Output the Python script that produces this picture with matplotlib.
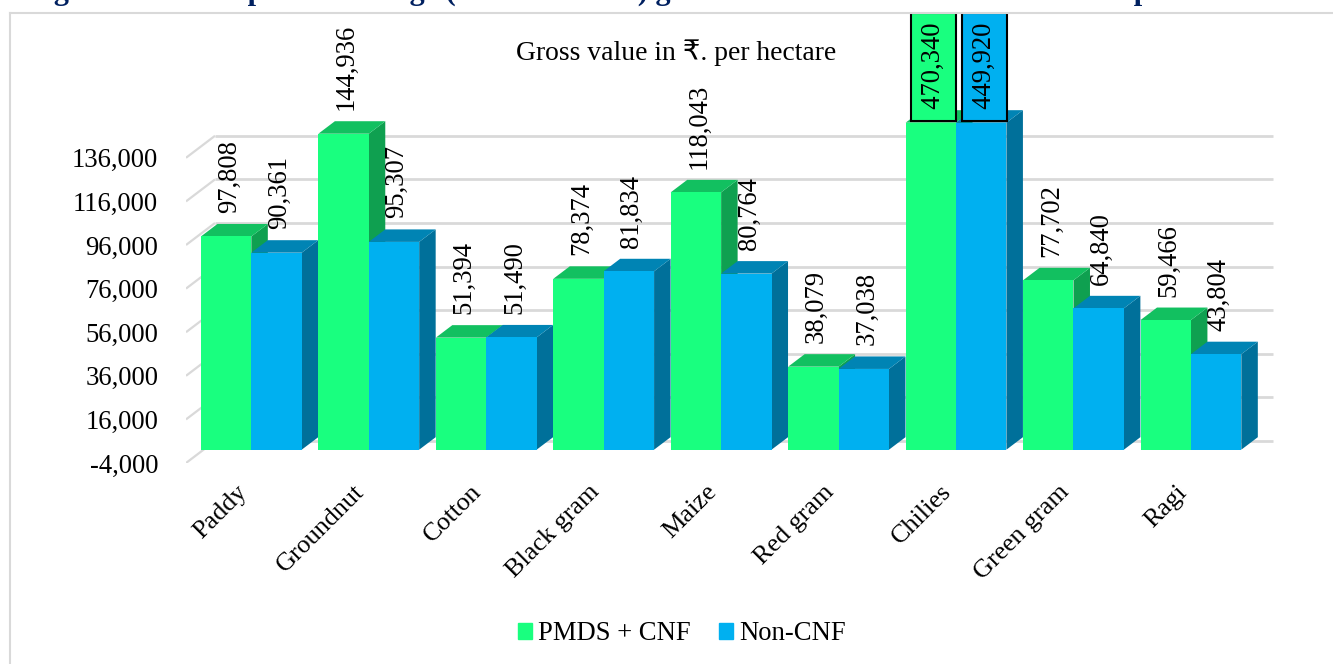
#!/usr/bin/env python3
# Crop-wise gross value per hectare, drawn as a fake 3D clustered bar chart

# Imports
import matplotlib
matplotlib.use("Agg")
import matplotlib.pyplot as plt
from matplotlib.lines import Line2D
from matplotlib.patches import Patch
from matplotlib.transforms import Affine2D


# Data
crops = ["Paddy", "Groundnut", "Cotton", "Black gram", "Maize", "Red gram", "Chilies", "Green gram", "Ragi"]
pmds_cnf = [97808, 144936, 51394, 78374, 118043, 38079, 470340, 77702, 59466]
non_cnf = [90361, 95307, 51490, 81834, 80764, 37038, 449920, 64840, 43804]
y_ticks = [-4000, 16000, 36000, 56000, 76000, 96000, 116000, 136000]
axis_cap = 150000


# Layout, everything in pixels of the 1333x664 picture
W, H = 1333, 664
left, right, top, bottom = 186, 1333, 13, 463
band = 117.45
px_per_unit = 0.00218
bar_px = 50.4
depth_px = (16.5, 12.5)
plane_px = (6.6, 4.6)
wall_px = (29, 22)
wall_end = 1273

serif = ["Liberation Serif", "DejaVu Sans"]
plt.rcParams["font.family"] = serif
fs = 19.2

green = ("#19FF7F", "#12C060", "#0FA050")
blue = ("#00B0F0", "#0084B4", "#00709A")


# px -> data helpers
def dx(p):
    return p / band


def dy(p):
    return p / px_per_unit


fig = plt.figure(figsize=(W / 100, H / 100), dpi=100)
ax = fig.add_axes([left / W, 1 - bottom / H, (right - left) / W, (bottom - top) / H])
ax.set_xlim(-0.5, -0.5 + (right - left) / band)
ax.set_ylim(y_ticks[0], y_ticks[0] + dy(bottom - top))
for s in ax.spines.values():
    s.set_visible(False)


# Frame, only left and top edges show
fig.add_artist(Line2D([10 / W, 10 / W], [0, 1 - 13 / H], color="#D9D9D9", lw=1.5))
fig.add_artist(Line2D([10 / W, 1], [1 - 13 / H, 1 - 13 / H], color="#D9D9D9", lw=1.5))

# Cut off heading above the frame
fig.text(27 / W, 1 + 0.5 / H, "Figure 5.3.4: Crop-wise average (Kharif + Rabi) gross value of CNF and non-CNF output",
         color="#002060", fontsize=21.8, fontweight="bold", va="baseline", ha="left", clip_on=False)


# Wall gridlines and the short floor stubs
x0 = -0.5
x_wall0 = x0 + dx(wall_px[0])
x_wall1 = x0 + dx(wall_end - left)
for t in y_ticks:
    yw = t + dy(wall_px[1])
    ax.plot([x0, x_wall0], [t, yw], color="#D9D9D9", lw=1.6, zorder=1, solid_capstyle="butt")
    ax.plot([x_wall0, x_wall1], [yw, yw], color="#D9D9D9", lw=2, zorder=1, solid_capstyle="butt")


# Bars, left to right so later fronts hide earlier sides
base = dy(plane_px[1])
ddx, ddy = dx(depth_px[0]), dy(depth_px[1])
w = dx(bar_px)
z = 2
for i in range(len(crops)):
    for j, (vals, cols) in enumerate([(pmds_cnf, green), (non_cnf, blue)]):
        xl = i - w + j * w + dx(plane_px[0])
        xr = xl + w
        yt = min(vals[i], axis_cap) + base
        ax.fill([xr, xr + ddx, xr + ddx, xr], [base, base + ddy, yt + ddy, yt], color=cols[2], lw=0, zorder=z)
        ax.fill([xl, xl + ddx, xr + ddx, xr], [yt, yt + ddy, yt + ddy, yt], color=cols[1], lw=0, zorder=z)
        ax.bar(xl, yt - base, width=w, bottom=base, align="edge", color=cols[0], lw=0, zorder=z)
        z += 1


# Data labels
for i in range(len(crops)):
    for j, (vals, cols) in enumerate([(pmds_cnf, green), (non_cnf, blue)]):
        xc = i - w + j * w + dx(plane_px[0]) + w / 2
        if vals[i] > axis_cap:
            ax.text(xc + dx(3), axis_cap + base + dy(11.5), f"\u200a{vals[i]:,}", rotation=90, ha="center", va="bottom",
                    fontsize=fs, zorder=50, clip_on=True,
                    bbox=dict(boxstyle="square,pad=0.37", facecolor=cols[0], edgecolor="black", lw=1.5))
        else:
            ax.text(xc + dx(3), vals[i] + base + ddy + dy(11), f"{vals[i]:,}", rotation=90, ha="center", va="bottom",
                    fontsize=fs, zorder=50)


# Axis text
ax.set_yticks(y_ticks)
ax.set_yticklabels([f"{t:,}" for t in y_ticks], fontsize=fs)
ax.set_xticks(range(len(crops)))
ax.set_xticklabels(crops, fontsize=18.8, rotation=45, ha="right", rotation_mode="anchor")
ax.tick_params(axis="y", length=0, pad=20)
ax.tick_params(axis="x", length=0, pad=13)
for lab in ax.get_xticklabels():
    lab.set_transform(lab.get_transform() + Affine2D().translate(-9, 0))

fig.text(676 / W, 1 - 52.5 / H, "Gross value in ₹. per hectare", fontsize=19.9, ha="center", va="center")

handles = [Patch(color=green[0], label="PMDS + CNF"), Patch(color=blue[0], label="Non-CNF")]
fig.legend(handles=handles, loc="center", bbox_to_anchor=(682 / W, 1 - 634 / H), ncol=2, frameon=False, fontsize=fs,
           handlelength=0.52, handleheight=0.52, handletextpad=0.25, columnspacing=1.05)

fig.savefig("out.png", dpi=100)
